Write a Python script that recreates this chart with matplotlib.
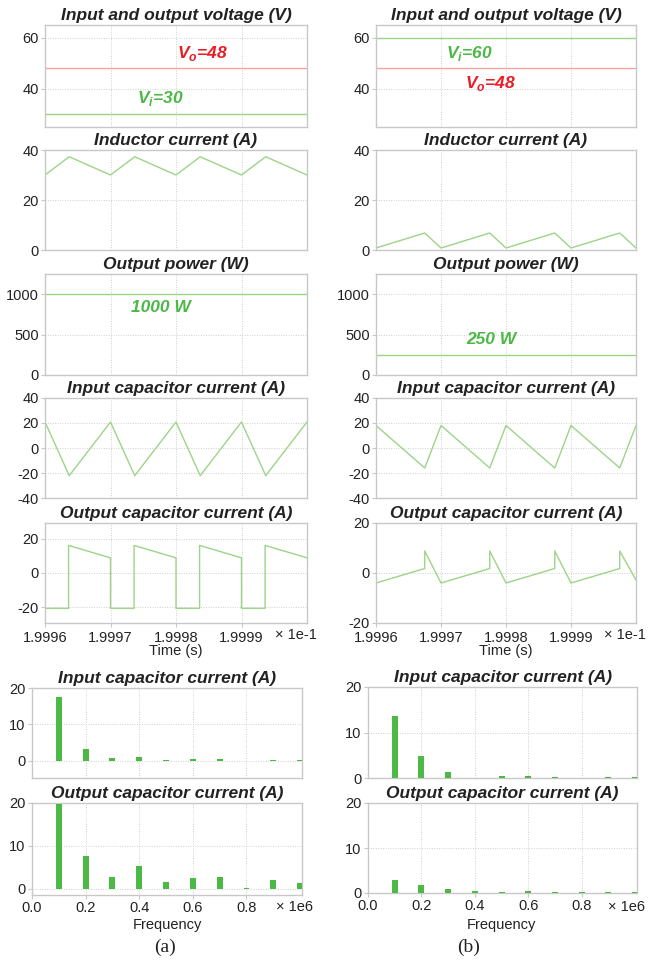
import matplotlib
matplotlib.use("Agg")
import matplotlib.pyplot as plt
from matplotlib.ticker import FixedLocator, NullFormatter

# ---- data (time axis in units of 1e-1 s) ----
t_ticks = [1.9996, 1.9997, 1.9998, 1.9999]
t_ticklabels = ["1.9996", "1.9997", "1.9998", "1.9999"]

# (a) boost mode, Vi=30 V
vin_a, vout_a, pout_a = 30, 48, 1000
il_a_t = [1.9996, 1.999637, 1.9997, 1.999737, 1.9998, 1.999837, 1.9999, 1.999937, 2.0]
il_a = [30, 37.3, 30, 37.3, 30, 37.3, 30, 37.3, 30]
icin_a_t = [1.9996, 1.999637, 1.9997, 1.999737, 1.9998, 1.999837, 1.9999, 1.999937, 2.0]
icin_a = [20.8, -22.1, 20.8, -22.1, 20.8, -22.1, 20.8, -22.1, 20.8]
icout_a_t = [1.9996, 1.999636, 1.999636, 1.9997, 1.9997,
             1.999736, 1.999736, 1.9998, 1.9998,
             1.999836, 1.999836, 1.9999, 1.9999,
             1.999936, 1.999936, 2.0]
icout_a = [-20.5, -20.5, 16, 8.8, -20.5,
           -20.5, 16, 8.8, -20.5,
           -20.5, 16, 8.8, -20.5,
           -20.5, 16, 8.8]

# (b) buck mode, Vi=60 V
vin_b, vout_b, pout_b = 60, 48, 250
il_b_t = [1.9996, 1.999675, 1.9997, 1.999775, 1.9998, 1.999875, 1.9999, 1.999975, 2.0]
il_b = [0.8, 6.8, 0.8, 6.8, 0.8, 6.8, 0.8, 6.8, 0.8]
icin_b_t = [1.9996, 1.999675, 1.9997, 1.999775, 1.9998, 1.999875, 1.9999, 1.999975, 2.0]
icin_b = [18, -16, 18, -16, 18, -16, 18, -16, 18]
icout_b_t = [1.9996, 1.999675, 1.999675, 1.9997,
             1.999775, 1.999775, 1.9998,
             1.999875, 1.999875, 1.9999,
             1.999975, 1.999975, 2.0]
icout_b = [-4.0, 1.8, 8.8, -4.0,
           1.8, 8.8, -4.0,
           1.8, 8.8, -4.0,
           1.8, 8.8, -2.8]

# harmonic spectra (frequency in units of 1e6 Hz)
freq = [0.1, 0.2, 0.3, 0.4, 0.5, 0.6, 0.7, 0.8, 0.9, 1.0]
freq_ticks = [0.0, 0.2, 0.4, 0.6, 0.8]
fft_cin_a = [17.4, 3.3, 0.8, 1.2, 0.35, 0.45, 0.45, 0.0, 0.3, 0.12]
fft_cout_a = [19.7, 7.7, 2.8, 5.4, 1.7, 2.5, 2.8, 0.3, 2.2, 1.5]
fft_cin_b = [13.6, 4.9, 1.4, 0.0, 0.5, 0.5, 0.3, 0.05, 0.15, 0.2]
fft_cout_b = [3.0, 1.8, 1.0, 0.45, 0.3, 0.45, 0.3, 0.15, 0.15, 0.2]

# ---- style ----
LINE_GREEN = "#9dd489"
LINE_RED = "#f5a3a3"
TEXT_GREEN = "#4bb847"
TEXT_RED = "#ec1c24"
BAR_GREEN = "#4cb944"
SPINE = "#c8c8c8"
INK = "#222222"
TICK_FS = 10.5
W, H = 651, 966

plt.rcParams["font.family"] = "Liberation Sans"
plt.rcParams["axes.unicode_minus"] = False
plt.rcParams["mathtext.fontset"] = "custom"
plt.rcParams["mathtext.bfit"] = "Liberation Sans:italic:bold"
plt.rcParams["mathtext.rm"] = "Liberation Sans"

fig = plt.figure(figsize=(W / 100, H / 100), dpi=100)


def make_axes(left, top, right, bottom):
    ax = fig.add_axes([left / W, 1 - bottom / H, (right - left) / W, (bottom - top) / H])
    for sp in ax.spines.values():
        sp.set_color(SPINE)
        sp.set_linewidth(1.0)
    ax.tick_params(labelsize=TICK_FS, length=3, color=SPINE, labelcolor=INK, pad=1.5)
    ax.grid(True, color="#cfcfcf", linestyle=(0, (1, 1.5)), linewidth=0.7)
    ax.set_axisbelow(True)
    return ax


def title(ax, s):
    ax.set_title(s, fontsize=12.5, fontweight="bold", style="italic", color=INK, pad=3.5)


def time_axes(left, right, top, bottom, ylim, yticks, last=False):
    ax = make_axes(left, top, right, bottom)
    ax.set_xlim(1.9996, 2.0)
    ax.xaxis.set_major_locator(FixedLocator(t_ticks))
    ax.set_ylim(*ylim)
    ax.set_yticks(yticks)
    if last:
        ax.set_xticklabels(t_ticklabels)
        ax.tick_params(axis="x", pad=3)
    else:
        ax.xaxis.set_major_formatter(NullFormatter())
        ax.tick_params(axis="x", length=0)
    return ax


rows = [(25, 127), (150, 250), (274, 375), (398, 498), (523, 623)]
cols = {"a": (45, 307), "b": (376, 636)}
label_kw = dict(fontsize=12.5, fontweight="bold", style="italic", ha="center", va="center")

for key in ["a", "b"]:
    left, right = cols[key]
    if key == "a":
        vin, vout, pout = vin_a, vout_a, pout_a
        il_t, il = il_a_t, il_a
        icin_t, icin = icin_a_t, icin_a
        icout_t, icout = icout_a_t, icout_a
        cout_ylim = (-29, 29)
    else:
        vin, vout, pout = vin_b, vout_b, pout_b
        il_t, il = il_b_t, il_b
        icin_t, icin = icin_b_t, icin_b
        icout_t, icout = icout_b_t, icout_b
        cout_ylim = (-20, 20)

    # voltages
    ax = time_axes(left, right, *rows[0], (25, 65), [40, 60])
    ax.axhline(vout, color=LINE_RED, lw=1.0)
    ax.axhline(vin, color=LINE_GREEN, lw=1.0)
    title(ax, "Input and output voltage (V)")
    if key == "a":
        ax.text(0.603, 0.716, r"$\mathbfit{V}_{\mathbfit{o}}$=48", color=TEXT_RED,
                transform=ax.transAxes, **label_kw)
        ax.text(0.44, 0.284, r"$\mathbfit{V}_{\mathbfit{i}}$=30", color=TEXT_GREEN,
                transform=ax.transAxes, **label_kw)
    else:
        ax.text(0.358, 0.725, r"$\mathbfit{V}_{\mathbfit{i}}$=60", color=TEXT_GREEN,
                transform=ax.transAxes, **label_kw)
        ax.text(0.44, 0.43, r"$\mathbfit{V}_{\mathbfit{o}}$=48", color=TEXT_RED,
                transform=ax.transAxes, **label_kw)

    # inductor current
    ax = time_axes(left, right, *rows[1], (0, 40), [0, 20, 40])
    ax.plot(il_t, il, color=LINE_GREEN, lw=1.0)
    title(ax, "Inductor current (A)")

    # output power
    ax = time_axes(left, right, *rows[2], (0, 1250), [0, 500, 1000])
    ax.axhline(pout, color=LINE_GREEN, lw=1.0)
    title(ax, "Output power (W)")
    if key == "a":
        ax.text(0.443, 0.673, f"{pout} W", color=TEXT_GREEN, transform=ax.transAxes, **label_kw)
    else:
        ax.text(0.442, 0.347, f"{pout} W", color=TEXT_GREEN, transform=ax.transAxes, **label_kw)

    # input capacitor current
    ax = time_axes(left, right, *rows[3], (-40, 40), [-40, -20, 0, 20, 40])
    ax.plot(icin_t, icin, color=LINE_GREEN, lw=1.0)
    title(ax, "Input capacitor current (A)")

    # output capacitor current
    ax = time_axes(left, right, *rows[4], cout_ylim, [-20, 0, 20], last=True)
    ax.plot(icout_t, icout, color=LINE_GREEN, lw=1.0)
    title(ax, "Output capacitor current (A)")
    fig.text((right - 11) / W, 1 - 635 / H, "× 1e-1", ha="center", va="center",
             fontsize=TICK_FS, color=INK)
    fig.text((left + right) / 2 / W, 1 - 651 / H, "Time (s)", ha="center", va="center",
             fontsize=TICK_FS, color=INK)

# ---- spectra ----
spec = {
    "a": dict(lr=(32, 302), rows=[(688, 778), (803, 895)], ylims=[(-4.7, 20), (-1.4, 20)],
              data=[fft_cin_a, fft_cout_a], xlab=167, sub=165, unit_x=295),
    "b": dict(lr=(368, 637), rows=[(687, 778), (803, 893)], ylims=[(0, 20), (0, 20)],
              data=[fft_cin_b, fft_cout_b], xlab=501, sub=469, unit_x=627),
}
spec_titles = ["Input capacitor current (A)", "Output capacitor current (A)"]

for key, s in spec.items():
    left, right = s["lr"]
    for i in range(2):
        top, bottom = s["rows"][i]
        ax = make_axes(left, top, right, bottom)
        ax.bar(freq, s["data"][i], width=0.022, color=BAR_GREEN, zorder=3)
        ax.set_xlim(0, 1.007)
        ax.set_ylim(*s["ylims"][i])
        ax.set_yticks([0, 10, 20])
        ax.xaxis.set_major_locator(FixedLocator(freq_ticks))
        title(ax, spec_titles[i])
        if i == 0:
            ax.xaxis.set_major_formatter(NullFormatter())
            ax.tick_params(axis="x", length=0)
        else:
            ax.set_xticklabels([f"{v:.1f}" for v in freq_ticks])
    fig.text(s["unit_x"] / W, 1 - 907 / H, "× 1e6", ha="center", va="center",
             fontsize=TICK_FS, color=INK)
    fig.text(s["xlab"] / W, 1 - 925 / H, "Frequency", ha="center", va="center",
             fontsize=TICK_FS, color=INK)
    fig.text(s["sub"] / W, 1 - 947 / H, f"({key})", ha="center", va="center",
             fontsize=14, family="Liberation Serif", color=INK)

fig.savefig("out.png", dpi=100)
